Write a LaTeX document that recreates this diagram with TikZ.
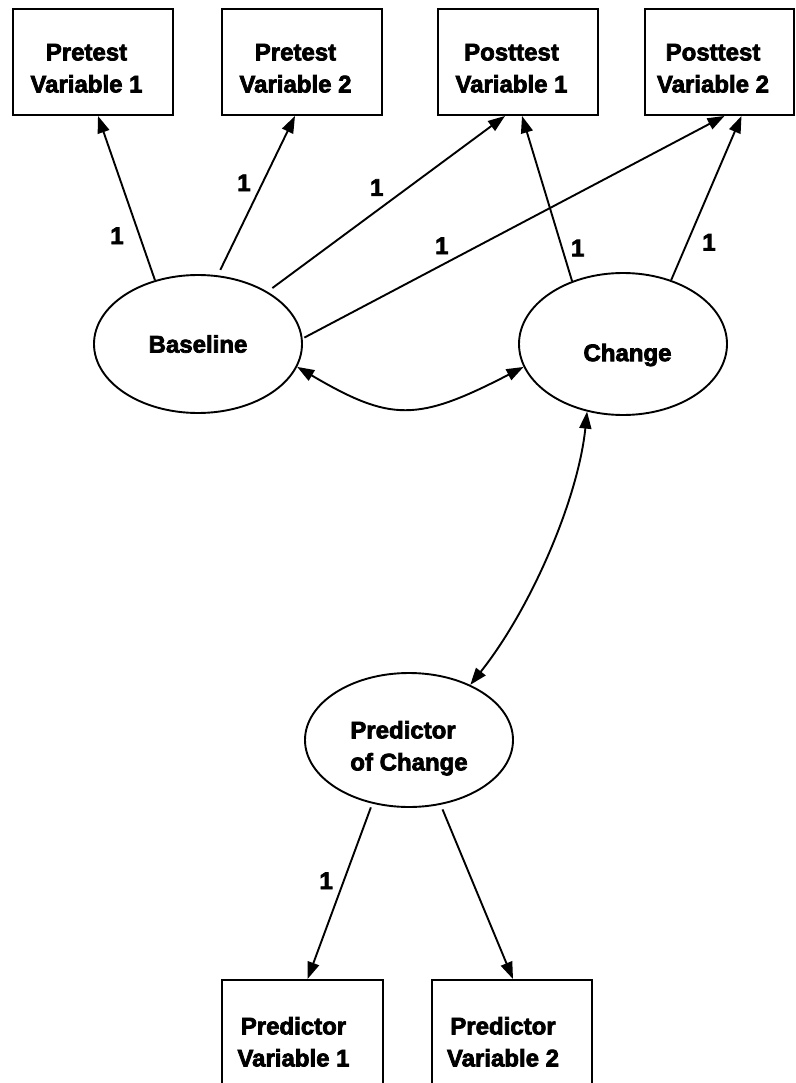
\documentclass[tikz,border=0pt]{standalone}
\usepackage{fontspec}
\setmainfont{Liberation Sans}[BoldFeatures={FakeBold=3}]
\usetikzlibrary{arrows.meta,shapes.geometric}
\newcommand{\boxtext}[2]{\raisebox{-8pt}[\height][\depth]{\begin{tabular}{@{}c@{}}#1\\#2\end{tabular}}\kern13pt}
\tikzset{
  semfont/.style={font={\fontsize{24}{32}\selectfont\bfseries}},
  varbox/.style={draw, line width=1.9pt, rectangle, minimum height=106pt, inner sep=0pt, semfont},
  latent/.style={draw, line width=1.9pt, ellipse, minimum width=208pt, inner sep=0pt, semfont},
  load/.style={line width=1.9pt, -{Triangle[length=17pt,width=12pt]}},
  cov/.style={line width=1.9pt, {Triangle[length=17pt,width=12pt]}-{Triangle[length=17pt,width=12pt]}},
  one/.style={inner sep=0pt, semfont}
}
\begin{document}
\begin{tikzpicture}[x=1pt,y=-1pt]
  \useasboundingbox (0,0) rectangle (795,1083);
  % pretest / posttest measures
  \foreach \n/\x/\w/\a/\b in {pv1/93/160/Pretest/Variable 1,pv2/302/160/Pretest/Variable 2,post1/518/160/Posttest/Variable 1,post2/719.5/149/Posttest/Variable 2}
    \node[varbox, minimum width=\w pt] (\n) at (\x,62) {\boxtext{\a}{\b}};
  % latent factors
  \node[latent, minimum height=138pt] (base) at (198,344) {Baseline};
  \node[latent, minimum height=142pt] (chg) at (623,344) {\kern9pt\raisebox{-11pt}[\height][\depth]{Change}};
  \node[latent, minimum height=134pt] (pred) at (409,740) {\raisebox{-8pt}[\height][\depth]{\begin{tabular}{@{}l@{}}Predictor\\of Change\end{tabular}}};
  % predictor measures
  \node[varbox, minimum width=161pt, minimum height=112pt] (prv1) at (302.5,1036) {\boxtext{Predictor}{Variable 1}\kern5pt};
  \node[varbox, minimum width=160pt, minimum height=112pt] (prv2) at (512,1036) {\boxtext{Predictor}{Variable 2}\kern5pt};
  % loadings
  \draw[load] (base.124) -- ([xshift=5pt]pv1.south) node[one, pos=.27, left=15pt] {1};
  \draw[load, shorten <=6pt] (base.74) -- ([xshift=-7pt]pv2.south) node[one, pos=.58, left=11pt] {1};
  \draw[load, shorten <=6pt] (base.37) -- ([xshift=-13pt]post1.south) node[one, pos=.46, above=14pt] {1};
  \draw[load, shorten <=2pt] (base.3) -- ([xshift=5pt]post2.south) node[one, pos=.33, above=10pt] {1};
  \draw[load] (chg.129) -- ([xshift=4pt]post1.south) node[one, pos=.2, right=8pt] {1};
  \draw[load] (chg.53) -- ([xshift=22pt]post2.south) node[one, pos=.23, right=14pt] {1};
  \draw[load, shorten <=4pt] (pred.-120) -- ([xshift=5pt]prv1.north) node[one, pos=.44, left=10pt] {1};
  \draw[load, shorten <=5pt] (pred.-64) -- ([xshift=1pt]prv2.north);
  % covariances
  \draw[cov] (base.-13) .. controls (391,422) and (417,422) .. (chg.-167);
  \draw[cov] (chg.-118) .. controls (578,500) and (530,610) .. (pred.42);
\end{tikzpicture}
\end{document}
